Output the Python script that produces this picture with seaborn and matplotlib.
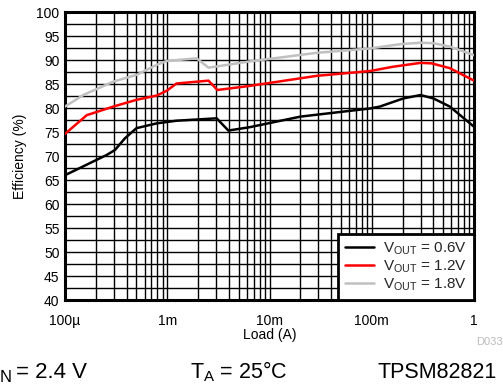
import numpy as np
import pandas as pd
import matplotlib
matplotlib.use("Agg")
import matplotlib.pyplot as plt
import seaborn as sns

# Data (Load in A, Efficiency in %)
load_06 = [1e-4, 2.04e-4, 2.55e-4, 3.08e-4, 3.86e-4, 5e-4, 7.9e-4, 1.23e-3, 3.04e-3,
           3.96e-3, 6.4e-3, 0.02, 0.096, 0.12, 0.204, 0.30, 0.40, 0.58, 1.0]
eff_06 = [66.0, 69.2, 70.2, 71.25, 73.7, 75.8, 76.8, 77.35, 77.85,
          75.3, 76.0, 78.2, 79.9, 80.3, 82.0, 82.7, 82.0, 80.3, 76.1]

load_12 = [1e-4, 1.63e-4, 2.97e-4, 5e-4, 7.9e-4, 9.9e-4, 1.23e-3, 2.53e-3, 3.09e-3,
           6.4e-3, 0.029, 0.096, 0.162, 0.30, 0.385, 0.58, 1.0]
eff_12 = [74.6, 78.5, 80.3, 81.7, 82.6, 83.6, 85.1, 85.7, 83.75,
          84.6, 86.7, 87.7, 88.6, 89.4, 89.3, 88.3, 85.7]

load_18 = [1e-4, 1.51e-4, 2.97e-4, 5e-4, 7.9e-4, 9.9e-4, 1.94e-3, 2.53e-3,
           6.4e-3, 0.029, 0.096, 0.19, 0.30, 0.40, 0.58, 1.0]
eff_18 = [80.3, 82.7, 85.5, 86.9, 89.0, 89.8, 90.35, 88.4,
          89.7, 91.5, 92.4, 93.3, 93.6, 93.5, 92.8, 91.0]

series_labels = [r"V$_\mathregular{OUT}$ = 0.6V", r"V$_\mathregular{OUT}$ = 1.2V",
                 r"V$_\mathregular{OUT}$ = 1.8V"]
series_colors = ["#000000", "#FF0000", "#C0C0C0"]

x_ticks = [1e-4, 1e-3, 1e-2, 1e-1, 1]
x_ticklabels = ["100µ", "1m", "10m", "100m", "1"]
y_ticks = list(range(40, 101, 5))

frames = []
for lab, xs, ys in zip(series_labels, [load_06, load_12, load_18], [eff_06, eff_12, eff_18]):
    frames.append(pd.DataFrame({"Load": xs, "Eff": ys, "Series": lab}))
df = pd.concat(frames, ignore_index=True)

sns.set_theme(style="white")
plt.rcParams["font.family"] = ["Liberation Sans", "DejaVu Sans"]
plt.rcParams["mathtext.fontset"] = "custom"
plt.rcParams["mathtext.rm"] = "Liberation Sans"

fig = plt.figure(figsize=(5.03, 3.91), dpi=100)
ax = fig.add_axes([65 / 503, 1 - 300 / 391, 409 / 503, 288 / 391])

sns.lineplot(data=df, x="Load", y="Eff", hue="Series", palette=series_colors,
             hue_order=series_labels, linewidth=1.8, ax=ax, sort=False,
             estimator=None, zorder=3)

ax.set_xscale("log")
ax.set_xlim(1e-4, 1)
ax.set_ylim(40, 100)
ax.set_xticks(x_ticks)
ax.set_xticklabels(x_ticklabels)
ax.set_yticks(y_ticks)
ax.set_yticks(np.arange(42.5, 100, 5), minor=True)
ax.xaxis.set_minor_locator(matplotlib.ticker.LogLocator(base=10, subs=np.arange(2, 10)))
ax.xaxis.set_minor_formatter(matplotlib.ticker.NullFormatter())
ax.grid(True, which="both", color="#000000", linewidth=1.0)
ax.set_axisbelow(True)
ax.tick_params(which="both", length=0, labelsize=10, colors="#000000")
ax.tick_params(axis="x", pad=10)
ax.tick_params(axis="y", pad=4)
for sp in ax.spines.values():
    sp.set_visible(True)
    sp.set_color("#000000")
    sp.set_linewidth(2.2)

ax.set_xlabel("Load (A)", fontsize=10, labelpad=0, color="#000000")
ax.set_ylabel("Efficiency (%)", fontsize=10, labelpad=7, color="#000000")

leg = ax.legend(loc="lower right", fontsize=11, frameon=True, fancybox=False,
                handlelength=1.9, handletextpad=0.6, borderpad=0.45,
                labelspacing=0.08, borderaxespad=0.0)
leg.get_frame().set_edgecolor("#000000")
leg.get_frame().set_linewidth(2.0)
leg.get_frame().set_alpha(1)
for line in leg.get_lines():
    line.set_linewidth(1.8)

fig.text(489 / 503, 1 - 342 / 391, "D033", fontsize=8, color="#BBBBBB",
         ha="center", va="center")
fig.text(0.0, 1 - 378 / 391, "N", fontsize=12, ha="left", va="center", color="#000000")
fig.text(16 / 503, 1 - 372 / 391, "= 2.4 V", fontsize=16, ha="left", va="center",
         color="#000000")
fig.text(190 / 503, 1 - 372 / 391, r"T$_\mathregular{A}$ = 25°C", fontsize=15.5,
         ha="left", va="center", color="#000000")
fig.text(497 / 503, 1 - 372 / 391, "TPSM82821", fontsize=15.5, ha="right",
         va="center", color="#000000")

fig.savefig("out.png", dpi=100)
